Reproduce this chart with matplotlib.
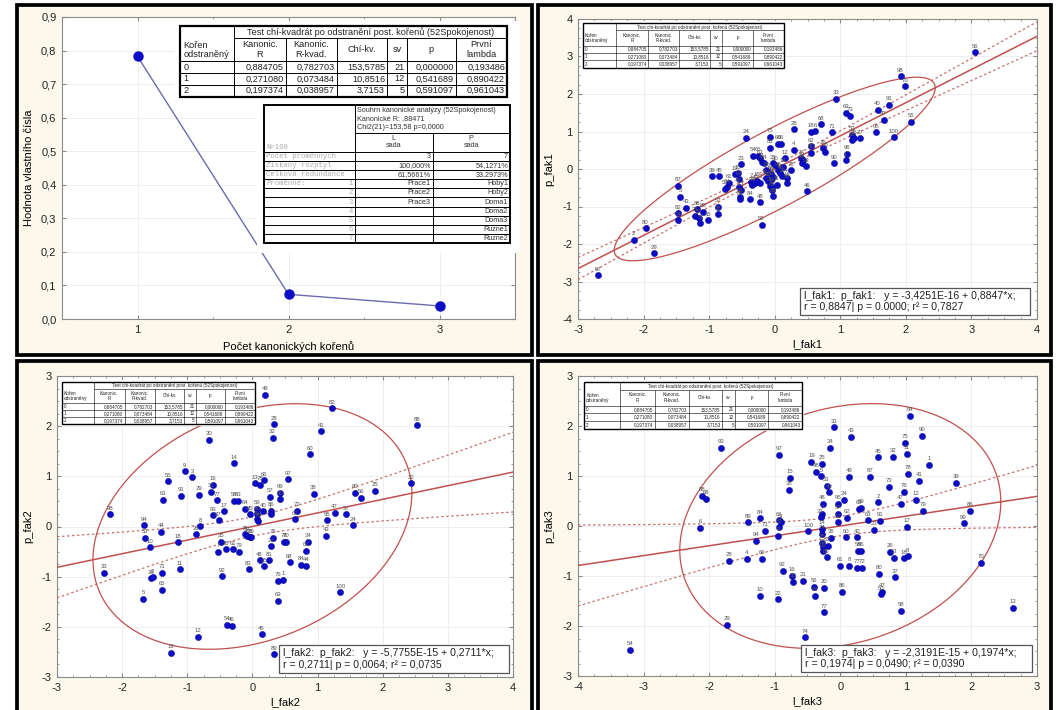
import numpy as np
import matplotlib
matplotlib.use("Agg")
import matplotlib.pyplot as plt
from matplotlib.patches import Rectangle
from matplotlib.ticker import MultipleLocator, FuncFormatter, AutoMinorLocator

plt.rcParams['font.family'] = ['Liberation Sans', 'DejaVu Sans']
plt.rcParams['axes.unicode_minus'] = False

# -------------------------
# Data
# -------------------------
roots = [1, 2, 3]
eigen = [0.782703, 0.073484, 0.038957]

chi_title = "Test chí-kvadrát po odstranění post. kořenů (52Spokojenost)"
chi_head = ["Kořen\nodstraněný", "Kanonic.\nR", "Kanonic.\nR-kvad.", "Chí-kv.", "sv", "p", "První\nlambda"]
chi_rows = [["0", "0,884705", "0,782703", "153,5785", "21", "0,000000", "0,193486"],
            ["1", "0,271080", "0,073484", "10,8516", "12", "0,541689", "0,890422"],
            ["2", "0,197374", "0,038957", "3,7153", "5", "0,591097", "0,961043"]]

sum_title = ["Souhrn kanonické analýzy (52Spokojenost)", "Kanonické R: ,88471", "Chi2(21)=153,58 p=0,0000"]
sum_n = "N=100"
sum_head = ["L\nsada", "P\nsada"]
sum_rows = [["Počet proměnných", "", "3", "7"],
            ["Získaný rozptyl", "", "100,000%", "54,1271%"],
            ["Celková redundance", "", "61,5661%", "33,2973%"],
            ["Proměnné:", "1", "Prace1", "Hoby1"],
            ["", "2", "Prace2", "Hoby2"],
            ["", "3", "Prace3", "Doma1"],
            ["", "4", "", "Doma2"],
            ["", "5", "", "Doma3"],
            ["", "6", "", "Ruzne1"],
            ["", "7", "", "Ruzne2"]]

n_obs = 100
canon_r = [0.8847, 0.2711, 0.1974]
intercepts = [-3.4251e-16, -5.7755e-15, -2.3191e-15]
reg_texts = ["l_fak1:  p_fak1:   y = -3,4251E-16 + 0,8847*x;\nr = 0,8847| p = 0.0000; r² = 0,7827",
             "l_fak2:  p_fak2:   y = -5,7755E-15 + 0,2711*x;\nr = 0,2711| p = 0,0064; r² = 0,0735",
             "l_fak3:  p_fak3:   y = -2,3191E-15 + 0,1974*x;\nr = 0,1974| p = 0,0490; r² = 0,0390"]

fak1_x = [3.05, 1.92, 1.99, 0.93, 1.57, 1.74, 1.09, 1.15, 1.66, 2.08,
          0.71, 0.30, 0.55, 0.62, 0.87, 1.54, 1.82, -0.07, -0.44, 0.05,
          0.10, -0.07, 0.29, 0.56, 0.56, 0.73, 0.76, 1.18, 1.21, 1.18,
          1.30, 1.10, 1.08, 0.90, -0.33, -0.25, -0.22, -0.20, -0.17, -0.03,
          0.00, 0.15, 0.25, 0.40, 0.43, 0.41, 0.48, 0.12, 0.05, 0.08,
          -0.95, -0.85, -0.51, -0.56, -0.61, -0.70, -0.73, -0.76, -0.54, -0.55,
          -0.51, -0.53, -0.53, -0.36, -0.34, -0.30, -0.27, -0.38, -0.22, -0.22,
          -0.14, -0.10, -0.06, -0.07, -0.04, -0.04, 0.03, -0.03, -0.13, -0.10,
          -0.06, -0.02, 0.11, 0.18, 0.19, 0.49, -0.20, -1.35, -1.48, -1.44,
          -1.48, -1.48, -1.19, -1.22, -1.15, -1.14, -1.09, -1.02, -0.87, -0.87,
          -1.97, -2.15, -1.84, -2.69]
fak1_y = [3.11, 2.47, 2.20, 1.87, 1.58, 1.71, 1.50, 1.42, 1.31, 1.26,
          1.20, 1.06, 0.99, 1.01, 0.98, 0.98, 0.85, 0.86, 0.83, 0.68,
          0.68, 0.57, 0.51, 0.61, 0.44, 0.55, 0.46, 0.92, 0.82, 0.77,
          0.82, 0.41, 0.24, 0.16, 0.35, 0.35, 0.29, 0.19, 0.15, 0.15,
          0.11, 0.29, -0.03, 0.29, 0.24, 0.17, 0.08, 0.06, -0.03, -0.10,
          -0.19, -0.19, 0.13, -0.11, -0.14, -0.36, -0.49, -0.52, -0.27, -0.47,
          -0.56, -0.74, -0.81, -0.34, -0.43, -0.38, -0.31, -0.81, -0.88, -0.36,
          -0.25, -0.31, -0.29, -0.44, -0.49, -0.56, -0.42, -0.72, -0.03, -0.07,
          -0.14, -0.21, -0.19, -0.25, -0.36, -0.59, -1.49, -1.03, -0.44, -0.74,
          -1.18, -1.36, -1.07, -1.25, -1.30, -1.45, -1.14, -1.36, -1.00, -1.20,
          -1.58, -1.89, -2.25, -2.83]
fak1_lab = ["56", "98", "70", "33", "40", "91", "69", "73", "47", "55",
            "68", "28", "18", "6", "71", "95", "100", "75", "24", "60",
            "66", "81", "4", "62", "86", "26", "79", "52", "85", "38",
            "27", "96", "1", "90", "54", "65", "63", "11", "64", "21",
            "30", "12", "78", "37", "9", "44", "93", "14", "99", "10",
            "39", "45", "23", "15", "19", "61", "34", "53", "67", "42",
            "17", "50", "89", "7", "94", "49", "16", "84", "48", "3",
            "36", "20", "31", "25", "76", "83", "41", "88", "13", "77",
            "58", "22", "32", "72", "92", "46", "59", "43", "87", "5",
            "82", "74", "86", "35", "51", "8", "80", "65", "57", "35",
            "80", "2", "29", "97"]

fak2_x = [0.20, 1.22, 2.53, 0.33, 1.06, 0.31, -0.66, 0.89, -0.28, -1.04,
          -0.92, -1.29, 0.04, 0.12, 0.18, 0.55, 2.43, -0.82, -1.09, -0.60,
          -0.64, -0.55, -1.37, 0.43, 0.43, 0.27, 0.94, 1.88, 1.58, 1.66,
          -0.28, -0.22, -0.12, -0.04, 0.07, 0.16, 0.07, 0.07, 0.08, 0.28,
          0.28, -0.44, -0.60, -0.52, -0.80, -0.87, 0.69, 0.66, 1.26, 1.44,
          1.14, 1.54, 1.13, -2.18, -1.67, -1.65, -1.40, -1.57, -1.14, -0.48,
          -0.53, -0.41, -0.30, -0.20, -0.12, -0.08, -0.04, -0.02, 0.31, 0.28,
          0.49, 0.52, 0.86, 0.82, 0.11, 0.26, 0.17, 0.57, 0.75, 0.82,
          -0.06, -0.46, 0.39, 0.47, 0.39, 1.35, -2.28, -1.56, -1.53, -1.39,
          -1.11, -1.39, -1.68, -0.39, -0.32, -0.84, 0.14, -1.25, 0.33]
fak2_y = [2.63, 2.36, 2.02, 2.04, 1.90, 1.77, 1.73, 1.44, 1.26, 1.10,
          0.98, 0.90, 0.86, 0.83, 0.92, 0.94, 0.86, 0.63, 0.61, 0.83,
          0.69, 0.52, 0.53, 0.67, 0.54, 0.59, 0.65, 0.71, 0.67, 0.57,
          0.51, 0.51, 0.35, 0.24, 0.35, 0.30, 0.24, 0.15, 0.11, 0.31,
          0.25, 0.30, 0.22, 0.12, 0.01, -0.15, 0.31, 0.15, 0.27, 0.24,
          0.13, 0.02, -0.18, 0.24, 0.03, -0.22, -0.10, -0.41, -0.31, -0.30,
          -0.50, -0.45, -0.45, -0.50, -0.15, -0.18, -0.21, -0.21, -0.22, -0.39,
          -0.30, -0.30, -0.30, -0.48, -0.67, -0.67, -0.79, -0.71, -0.76, -0.78,
          -0.85, -0.99, -1.08, -1.06, -1.48, -1.31, -0.92, -1.03, -1.01, -0.92,
          -0.85, -1.26, -1.44, -1.96, -1.98, -2.20, -2.15, -2.52, -2.55]
fak2_lab = ["49", "82", "88", "28", "41", "32", "30", "60", "14", "9",
            "3", "55", "13", "78", "66", "97", "22", "29", "91", "16",
            "31", "77", "63", "99", "90", "57", "38", "25", "80", "56",
            "58", "83", "64", "85", "59", "40", "39", "61", "75", "86",
            "1", "17", "93", "87", "8", "26", "72", "67", "47", "37",
            "95", "24", "43", "98", "94", "53", "44", "10", "18", "35",
            "7", "36", "61", "79", "73", "52", "21", "20", "76", "27",
            "78", "70", "34", "62", "48", "81", "15", "68", "84", "44",
            "83", "92", "76", "1", "69", "100", "33", "26", "2", "71",
            "11", "65", "5", "54", "46", "12", "45", "19", "89"]

fak3_x = [1.06, -0.09, 0.17, 1.25, -1.82, -0.15, 0.99, 1.01, -0.93, 0.57,
          0.81, -0.44, -0.28, 1.36, -0.37, -0.29, -0.77, 1.04, 0.13, 0.45,
          1.20, 1.76, -0.21, 0.75, -0.78, -0.17, 0.97, -0.27, 0.05, -0.03,
          0.58, 0.92, 1.16, -2.11, -2.05, 0.29, 0.32, -0.03, 1.26, 1.98,
          -0.28, -0.30, 0.11, 0.42, 0.61, -1.40, -1.22, -0.94, -0.93, -1.15,
          -0.91, -2.14, 1.88, 0.52, 1.01, -0.03, -0.49, -0.28, -0.28, -0.14,
          -0.95, -1.29, -0.28, -0.26, -0.18, -0.26, -0.21, 0.09, 0.26, 0.27,
          0.32, 0.76, 0.82, 0.97, 1.03, 2.14, -1.70, -1.43, -1.19, 0.00,
          0.14, 0.25, 0.33, -0.88, -0.74, -0.72, -0.57, 0.59, 0.83, -0.40,
          -0.39, -0.25, 0.02, 0.64, 0.62, -1.22, -0.95, -0.25, 0.93, 2.64,
          -1.73, -0.54, -3.21]
fak3_y = [2.21, 1.98, 1.79, 1.81, 1.57, 1.57, 1.67, 1.45, 1.43, 1.38,
          1.39, 1.29, 1.25, 1.23, 1.09, 1.00, 0.97, 1.05, 0.99, 0.99,
          0.91, 0.87, 0.81, 0.79, 0.73, 0.68, 0.69, 0.45, 0.53, 0.45,
          0.48, 0.45, 0.53, 0.61, 0.55, 0.35, 0.37, 0.25, 0.31, 0.31,
          0.25, 0.18, 0.17, 0.12, 0.11, 0.08, 0.16, 0.12, -0.02, -0.09,
          0.08, -0.03, 0.06, -0.07, -0.01, 0.08, -0.10, -0.05, -0.15, -0.23,
          -0.19, -0.29, -0.33, -0.42, -0.39, -0.50, -0.62, -0.22, -0.22, -0.49,
          -0.49, -0.51, -0.63, -0.64, -0.60, -0.73, -0.69, -0.65, -0.65, -0.79,
          -0.79, -0.83, -0.83, -0.89, -0.99, -1.11, -1.09, -0.95, -1.02, -1.21,
          -1.39, -1.23, -1.31, -1.31, -1.36, -1.39, -1.46, -1.72, -1.69, -1.63,
          -1.97, -2.22, -2.47]
fak3_lab = ["64", "33", "43", "90", "93", "34", "75", "11", "97", "45",
            "32", "19", "25", "1", "98", "5", "15", "78", "49", "87",
            "41", "39", "53", "73", "38", "40", "76", "48", "24", "95",
            "2", "47", "12", "88", "68", "69", "99", "57", "79", "86",
            "7", "31", "62", "63", "91", "89", "84", "65", "82", "71",
            "3", "6", "99", "23", "17", "52", "100", "14", "74", "36",
            "9", "94", "35", "55", "27", "51", "85", "60", "42", "58",
            "96", "26", "53", "18", "8", "70", "28", "4", "66", "61",
            "8", "77", "72", "92", "16", "30", "21", "80", "37", "56",
            "81", "20", "86", "47", "50", "10", "22", "77", "58", "13",
            "29", "74", "54"]

# -------------------------
# Figure layout (pixel based)
# -------------------------
W, H = 1058, 710
fig = plt.figure(figsize=(W / 100, H / 100), dpi=100, facecolor="white")


def rect(x0, y0, x1, y1):
    return [x0 / W, 1 - y1 / H, (x1 - x0) / W, (y1 - y0) / H]


CREAM = "#fcf9ec"
RED = "#c0504d"
BLUE = "#0c0cc8"
GRAY = "#8a8a8a"

bg = fig.add_axes([0, 0, 1, 1], zorder=-10)
bg.set_xlim(0, W)
bg.set_ylim(H, 0)
bg.axis("off")
for (x0, y0, x1, y1) in [(16.5, 5, 532, 355), (538, 5, 1051, 355),
                         (16.5, 361, 532, 716), (538, 361, 1051, 716)]:
    bg.add_patch(Rectangle((x0, y0), x1 - x0, y1 - y0, facecolor=CREAM,
                           edgecolor="black", lw=2.7))


def style_axes(ax):
    ax.set_facecolor("white")
    for s in ax.spines.values():
        s.set_color(GRAY)
        s.set_linewidth(0.8)
    ax.tick_params(which="both", direction="in", top=True, right=True,
                   color=GRAY, labelsize=8, labelcolor="#222222", pad=4)
    ax.tick_params(which="major", length=3)
    ax.tick_params(which="minor", length=1.5)
    ax.grid(True, color="#ebebeb", lw=0.6)
    ax.set_axisbelow(True)


# -------------------------
# Panel 1 - eigenvalues
# -------------------------
ax1 = fig.add_axes(rect(62, 17, 515, 319))
style_axes(ax1)
ax1.plot(roots, eigen, color="#6b6bb0", lw=1.0, marker="o", ms=6.5,
         mfc=BLUE, mec=BLUE, zorder=3)
ax1.set_xlim(0.5, 3.5)
ax1.set_ylim(0, 0.9)
ax1.xaxis.set_major_locator(MultipleLocator(1))
ax1.xaxis.set_minor_locator(MultipleLocator(0.5))
ax1.yaxis.set_major_locator(MultipleLocator(0.1))
ax1.yaxis.set_major_formatter(FuncFormatter(lambda v, p: f"{v:.1f}".replace(".", ",")))
ax1.set_xlabel("Počet kanonických kořenů", fontsize=8, labelpad=5)
ax1.set_ylabel("Hodnota vlastního čísla", fontsize=8, labelpad=5)


# -------------------------
# Scatter panels
# -------------------------
def scatter_panel(box, x, y, labels, r, b0, xlim, ylim, xlabel, ylabel):
    ax = fig.add_axes(rect(*box))
    style_axes(ax)
    ax.scatter(x, y, s=20, c=BLUE, edgecolors="#00008a", linewidths=0.3, zorder=4)
    for xi, yi, lab in zip(x, y, labels):
        ax.annotate(lab, (xi, yi), xytext=(0, 2.5), textcoords="offset points",
                    ha="center", va="bottom", fontsize=4.3, color="#555555", zorder=5)
    xs = np.linspace(xlim[0], xlim[1], 200)
    fit = b0 + r * xs
    s = np.sqrt((1 - r ** 2) * (n_obs - 1) / (n_obs - 2))
    half = 1.9845 * s * np.sqrt(1 / n_obs + xs ** 2 / (n_obs - 1))
    ax.plot(xs, fit, color=RED, lw=1.1, zorder=3)
    ax.plot(xs, fit + half, color="#c87070", lw=0.9, ls=(0, (2, 2)), zorder=3)
    ax.plot(xs, fit - half, color="#c87070", lw=0.9, ls=(0, (2, 2)), zorder=3)
    t = np.linspace(0, 2 * np.pi, 400)
    c = np.sqrt(5.991)
    ax.plot(c * np.cos(t), b0 + c * (r * np.cos(t) + np.sqrt(1 - r ** 2) * np.sin(t)),
            color=RED, lw=0.9, zorder=3)
    ax.set_xlim(*xlim)
    ax.set_ylim(*ylim)
    ax.xaxis.set_major_locator(MultipleLocator(1))
    ax.yaxis.set_major_locator(MultipleLocator(1))
    ax.xaxis.set_minor_locator(AutoMinorLocator(4))
    ax.yaxis.set_minor_locator(AutoMinorLocator(4))
    ax.set_xlabel(xlabel, fontsize=8, labelpad=3)
    ax.set_ylabel(ylabel, fontsize=8, labelpad=6)
    return ax


scatter_panel((578, 19, 1037, 319), fak1_x, fak1_y, fak1_lab, canon_r[0], intercepts[0],
              (-3, 4), (-4, 4), "l_fak1", "p_fak1")
scatter_panel((57, 376, 513, 677), fak2_x, fak2_y, fak2_lab, canon_r[1], intercepts[1],
              (-3, 4), (-3, 3), "l_fak2", "p_fak2")
scatter_panel((578, 376, 1037, 676), fak3_x, fak3_y, fak3_lab, canon_r[2], intercepts[2],
              (-4, 3), (-3, 3), "l_fak3", "p_fak3")

# -------------------------
# Overlay: tables and regression boxes
# -------------------------
ov = fig.add_axes([0, 0, 1, 1], zorder=20)
ov.set_xlim(0, W)
ov.set_ylim(H, 0)
ov.axis("off")
ov.patch.set_alpha(0)


def hline(y, x0, x1, lw):
    ov.plot([x0, x1], [y, y], color="black", lw=lw, solid_capstyle="butt")


def vline(x, y0, y1, lw):
    ov.plot([x, x], [y0, y1], color="black", lw=lw, solid_capstyle="butt")


def chi_table(x0, y0, x1, y1, fs, lw_out=1.6, lw_in=0.7):
    w, h = x1 - x0, y1 - y0
    cf = [0, .165, .324, .480, .633, .694, .844, 1.0]
    rf = [0, .165, .50, .667, .833, 1.0]
    cx = [x0 + f * w for f in cf]
    ry = [y0 + f * h for f in rf]
    ov.add_patch(Rectangle((x0, y0), w, h, facecolor="white", edgecolor="none"))
    hline(ry[1], cx[1], x1, lw_in)
    for yy in ry[2:5]:
        hline(yy, x0, x1, lw_in)
    vline(cx[1], y0, y1, lw_in)
    for xx in cx[2:7]:
        vline(xx, ry[1], y1, lw_in)
    ov.add_patch(Rectangle((x0, y0), w, h, facecolor="none", edgecolor="black", lw=lw_out))
    ov.text((cx[1] + x1) / 2, (ry[0] + ry[1]) / 2, chi_title, fontsize=fs,
            ha="center", va="center", color="#222222")
    ov.text(x0 + 0.01 * w, y0 + 0.34 * h, chi_head[0], fontsize=fs, ha="left",
            va="center", color="#222222", linespacing=1.0)
    for i in range(1, 7):
        ov.text((cx[i] + cx[i + 1]) / 2, (ry[1] + ry[2]) / 2, chi_head[i], fontsize=fs,
                ha="center", va="center", color="#222222", linespacing=1.1)
    for j, row in enumerate(chi_rows):
        yc = (ry[2 + j] + ry[3 + j]) / 2
        ov.text(x0 + 0.01 * w, yc, row[0], fontsize=fs, ha="left", va="center", color="#222222")
        for i in range(1, 7):
            ov.text(cx[i + 1] - 0.006 * w, yc, row[i], fontsize=fs, ha="right",
                    va="center", color="#222222")


def summary_table(x0, y0, x1, y1, fs):
    w, h = x1 - x0, y1 - y0
    cx = [x0, x0 + .37 * w, x0 + .685 * w, x1]
    t1 = y0 + .203 * h
    t2 = y0 + .34 * h
    rh = (y1 - t2) / len(sum_rows)
    ov.add_patch(Rectangle((x0, y0), w, h, facecolor="white", edgecolor="none"))
    hline(t1, cx[1], x1, 0.7)
    hline(t2, x0, x1, 0.7)
    for k in range(1, len(sum_rows)):
        hline(t2 + k * rh, x0, x1, 0.7)
    vline(cx[1], y0, y1, 0.7)
    vline(cx[2], t1, y1, 0.7)
    ov.add_patch(Rectangle((x0, y0), w, h, facecolor="none", edgecolor="black", lw=1.4))
    for k, line in enumerate(sum_title):
        ov.text(cx[1] + 2, y0 + 5 + k * 8.6, line, fontsize=fs, ha="left",
                va="center", color="#333333")
    mono = dict(family=["Liberation Mono", "DejaVu Sans Mono"], fontsize=fs, color="#aaaaaa")
    ov.text(x0 + 2, t2 - 4, sum_n, ha="left", va="center", **mono)
    for i in range(2):
        ov.text((cx[i + 1] + cx[i + 2]) / 2, (t1 + t2) / 2, sum_head[i], fontsize=fs,
                ha="center", va="center", color="#333333", linespacing=1.0)
    for k, row in enumerate(sum_rows):
        yc = t2 + (k + 0.5) * rh
        ov.text(x0 + 2, yc, row[0], ha="left", va="center", **mono)
        ov.text(cx[1] - 2, yc, row[1], ha="right", va="center", **mono)
        ov.text(cx[2] - 2, yc, row[2], fontsize=fs, ha="right", va="center", color="#333333")
        ov.text(cx[3] - 2, yc, row[3], fontsize=fs, ha="right", va="center", color="#333333")


# white backing that hides part of panel 1 frame and line
ov.add_patch(Rectangle((174, 21), 346, 80, facecolor="white", edgecolor="none"))
ov.add_patch(Rectangle((257, 101), 263, 152, facecolor="white", edgecolor="none"))
chi_table(180, 26, 507, 96.5, 6.6)
summary_table(264, 105, 510, 243, 5.2)

# small tables inside scatter panels
for (x0, y0, x1, y1) in [(583, 23, 784, 68), (62, 382, 255, 424), (584, 382, 802, 429)]:
    ov.add_patch(Rectangle((x0 - 2, y0 - 2), x1 - x0 + 4, y1 - y0 + 4, facecolor="white",
                           edgecolor="none"))
    chi_table(x0, y0, x1, y1, 3.3, lw_out=1.0, lw_in=0.4)

# regression boxes
for (x0, y0, x1, y1), txt in zip([(800, 288, 1030, 315), (279, 645, 509, 673),
                                  (801, 645, 1032, 672)], reg_texts):
    ov.add_patch(Rectangle((x0, y0), x1 - x0, y1 - y0, facecolor="white",
                           edgecolor="#555555", lw=0.9))
    ov.text(x0 + 4, (y0 + y1) / 2, txt, fontsize=7.6, ha="left", va="center",
            color="#222222", linespacing=1.2)

fig.savefig("out.png", dpi=100, facecolor="white")
